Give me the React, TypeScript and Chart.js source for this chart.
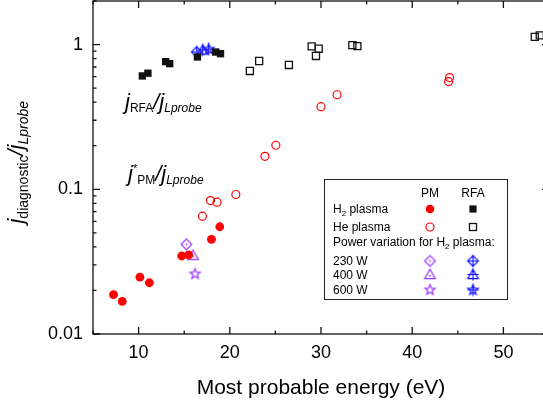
import React, { useEffect, useRef } from 'react';
import { Chart, registerables } from 'chart.js';

Chart.register(...registerables);

const FONT = "'Liberation Sans', Arial, Helvetica, sans-serif";

// ---- data (x: most probable energy in eV, y: j_diagnostic / j_Lprobe) ----
const h2PmX = [7.25, 8.21, 10.14, 11.18, 14.73, 15.49, 17.99, 18.9];
const h2PmY = [0.0187, 0.0168, 0.0247, 0.0226, 0.0346, 0.0352, 0.0451, 0.0551];

const hePmX = [17.0, 17.88, 18.6, 20.66, 23.85, 25.05, 30.0, 31.76, 43.99, 44.1];
const hePmY = [0.0652, 0.0836, 0.0814, 0.092, 0.169, 0.2015, 0.372, 0.45, 0.555, 0.591];

const h2RfaX = [10.41, 11.02, 12.97, 13.41, 16.45, 18.46, 18.98];
const h2RfaY = [0.607, 0.634, 0.762, 0.738, 0.821, 0.888, 0.865];

const heRfaX = [22.2, 23.22, 26.48, 28.98, 29.75, 29.45, 33.44, 33.99, 53.44, 53.99];
const heRfaY = [0.657, 0.77, 0.723, 0.972, 0.936, 0.834, 0.992, 0.976, 1.131, 1.157];

const powerLabels = ['230 W', '400 W', '600 W'];
const powerPmX = [15.24, 15.97, 16.19];
const powerPmY = [0.0417, 0.035, 0.026];
const powerRfaX = [16.37, 17.03, 17.69];
const powerRfaY = [0.888, 0.917, 0.931];

const xTicks = [10, 20, 30, 40, 50];
const yTicks = [0.01, 0.1, 1];
const xMin = 5;
const xMax = 55;
const yMin = 0.01;
const yMax = 2;

const RED = '#ff0000';
const PURPLE = '#9933ff';
const BLUE = '#1010ff';
const BLACK = '#111111';

type Kind = 'diamondDot' | 'triDot' | 'star' | 'diamondPlus' | 'triPlus' | 'starPlus';
const pmKinds: Kind[] = ['diamondDot', 'triDot', 'star'];
const rfaKinds: Kind[] = ['diamondPlus', 'triPlus', 'starPlus'];

function makeMarker(kind: Kind, color: string): HTMLCanvasElement {
  const c = document.createElement('canvas');
  c.width = 15;
  c.height = 15;
  const g = c.getContext('2d')!;
  g.translate(7.5, 7.5);
  g.strokeStyle = color;
  g.fillStyle = color;
  g.lineWidth = 1.2;
  g.beginPath();
  if (kind.startsWith('diamond')) {
    g.moveTo(0, -5.3);
    g.lineTo(5.3, 0);
    g.lineTo(0, 5.3);
    g.lineTo(-5.3, 0);
    g.closePath();
  } else if (kind.startsWith('tri')) {
    g.moveTo(0, -5.3);
    g.lineTo(5.3, 4.2);
    g.lineTo(-5.3, 4.2);
    g.closePath();
  } else {
    for (let i = 0; i < 10; i++) {
      const r = i % 2 === 0 ? 5.4 : 2.3;
      const a = -Math.PI / 2 + (i * Math.PI) / 5;
      const px = r * Math.cos(a);
      const py = r * Math.sin(a);
      if (i === 0) g.moveTo(px, py);
      else g.lineTo(px, py);
    }
    g.closePath();
  }
  g.stroke();
  if (kind.endsWith('Dot')) {
    g.beginPath();
    g.arc(0, kind.startsWith('tri') ? 1.2 : 0, 0.9, 0, Math.PI * 2);
    g.fill();
  }
  if (kind.endsWith('Plus')) {
    g.beginPath();
    g.moveTo(-5.6, 0);
    g.lineTo(5.6, 0);
    g.moveTo(0, -6.3);
    g.lineTo(0, 6);
    g.stroke();
  }
  return c;
}

type Part = { t: string; size: number; italic?: boolean; dy?: number };

function drawRich(ctx: CanvasRenderingContext2D, x: number, y: number, parts: Part[]) {
  let cx = x;
  for (const p of parts) {
    ctx.font = `${p.italic ? 'italic ' : ''}${p.size}px ${FONT}`;
    ctx.fillText(p.t, cx, y + (p.dy || 0));
    cx += ctx.measureText(p.t).width;
  }
}

function toPts(xs: number[], ys: number[]) {
  return xs.map((x, i) => ({ x, y: ys[i] }));
}

export default function App() {
  const ref = useRef<HTMLCanvasElement | null>(null);

  useEffect(() => {
    if (!ref.current) return;
    const pmMarkers = pmKinds.map((k) => makeMarker(k, PURPLE));
    const rfaMarkers = rfaKinds.map((k) => makeMarker(k, BLUE));

    const decor = {
      id: 'decor',
      afterDatasetsDraw(chart: any) {
        const ctx: CanvasRenderingContext2D = chart.ctx;
        const xs = chart.scales.x;
        const ys = chart.scales.y;
        const { left, right, top, bottom } = chart.chartArea;
        ctx.save();
        ctx.strokeStyle = BLACK;
        ctx.lineWidth = 1.3;
        ctx.strokeRect(left, top, right - left, bottom - top);
        ctx.beginPath();
        for (let v = xMin; v <= xMax; v += 5) {
          const px = xs.getPixelForValue(v);
          const len = v % 10 === 0 ? 7 : 3.5;
          ctx.moveTo(px, bottom);
          ctx.lineTo(px, bottom - len);
          ctx.moveTo(px, top);
          ctx.lineTo(px, top + len);
        }
        for (const d of [0.01, 0.1, 1]) {
          for (let m = 1; m <= 9; m++) {
            const v = m * d;
            if (v > yMax + 1e-9) break;
            const py = ys.getPixelForValue(v);
            const len = m === 1 ? 7 : 3.5;
            ctx.moveTo(left, py);
            ctx.lineTo(left + len, py);
            ctx.moveTo(right, py);
            ctx.lineTo(right - len, py);
          }
        }
        ctx.stroke();

        // in-plot annotations
        ctx.fillStyle = '#000';
        ctx.textAlign = 'left';
        ctx.textBaseline = 'alphabetic';
        drawRich(ctx, xs.getPixelForValue(8.51), ys.getPixelForValue(0.359), [
          { t: 'j', size: 22, italic: true },
          { t: 'RFA', size: 12, dy: 3 },
          { t: '/', size: 22, italic: true },
          { t: 'j', size: 22, italic: true },
          { t: 'Lprobe', size: 12, italic: true, dy: 3 },
        ]);
        drawRich(ctx, xs.getPixelForValue(8.84), ys.getPixelForValue(0.114), [
          { t: 'j', size: 22, italic: true },
          { t: '*', size: 11, dy: -9 },
          { t: 'PM', size: 12, dy: 3 },
          { t: '/', size: 22, italic: true },
          { t: 'j', size: 22, italic: true },
          { t: 'Lprobe', size: 12, italic: true, dy: 3 },
        ]);

        // y axis title (rotated)
        ctx.save();
        ctx.translate(left - 70, ys.getPixelForValue(0.058));
        ctx.rotate(-Math.PI / 2);
        drawRich(ctx, 0, 0, [
          { t: 'j', size: 22, italic: true },
          { t: 'diagnostic', size: 14, dy: 5 },
          { t: '/', size: 22, italic: true },
          { t: 'j', size: 22, italic: true },
          { t: 'Lprobe', size: 14, italic: true, dy: 5 },
        ]);
        ctx.restore();

        // legend box
        const bx = left + 231;
        const by = top + 178;
        const bw = 183;
        const bh = 120;
        ctx.fillStyle = '#fff';
        ctx.fillRect(bx, by, bw, bh);
        ctx.strokeStyle = '#222';
        ctx.lineWidth = 1;
        ctx.strokeRect(bx + 0.5, by + 0.5, bw, bh);
        ctx.fillStyle = '#000';
        const pmX = bx + 106;
        const rfaX = bx + 149;
        const tx = bx + 9;
        ctx.font = `12px ${FONT}`;
        ctx.textAlign = 'center';
        ctx.fillText('PM', pmX, by + 18);
        ctx.fillText('RFA', rfaX, by + 18);
        ctx.textAlign = 'left';
        const rowH2 = by + 30;
        const rowHe = by + 48;
        drawRich(ctx, tx, rowH2 + 4, [
          { t: 'H', size: 12 },
          { t: '2', size: 8, dy: 3 },
          { t: ' plasma', size: 12 },
        ]);
        drawRich(ctx, tx, rowHe + 4, [{ t: 'He plasma', size: 12 }]);
        drawRich(ctx, tx, by + 67, [
          { t: 'Power variation for H', size: 12 },
          { t: '2', size: 8, dy: 3 },
          { t: ' plasma:', size: 12 },
        ]);
        // H2 symbols
        ctx.fillStyle = RED;
        ctx.beginPath();
        ctx.arc(pmX, rowH2, 4.3, 0, Math.PI * 2);
        ctx.fill();
        ctx.fillStyle = BLACK;
        ctx.fillRect(rfaX - 3.6, rowH2 - 3.6, 7.2, 7.2);
        // He symbols
        ctx.strokeStyle = RED;
        ctx.lineWidth = 1.2;
        ctx.beginPath();
        ctx.arc(pmX, rowHe, 4, 0, Math.PI * 2);
        ctx.stroke();
        ctx.strokeStyle = BLACK;
        ctx.lineWidth = 1.3;
        ctx.strokeRect(rfaX - 3.5, rowHe - 3.5, 7, 7);
        // power rows
        const rows = [by + 82, by + 95.5, by + 111];
        ctx.fillStyle = '#000';
        rows.forEach((ry, i) => {
          drawRich(ctx, tx, ry + 4, [{ t: powerLabels[i], size: 12 }]);
          ctx.drawImage(pmMarkers[i], pmX - 7.5, ry - 7.5);
          ctx.drawImage(rfaMarkers[i], rfaX - 7.5, ry - 7.5);
        });
        ctx.restore();
      },
    };

    const chart = new Chart(ref.current, {
      type: 'scatter',
      data: {
        datasets: [
          {
            label: 'He plasma RFA',
            data: toPts(heRfaX, heRfaY),
            pointStyle: 'rect',
            pointRadius: 5,
            backgroundColor: 'rgba(0,0,0,0)',
            borderColor: BLACK,
            borderWidth: 1.3,
          },
          {
            label: 'H2 plasma RFA',
            data: toPts(h2RfaX, h2RfaY),
            pointStyle: 'rect',
            pointRadius: 5.2,
            backgroundColor: BLACK,
            borderColor: BLACK,
            borderWidth: 0,
          },
          {
            label: 'He plasma PM',
            data: toPts(hePmX, hePmY),
            pointStyle: 'circle',
            pointRadius: 4,
            backgroundColor: 'rgba(0,0,0,0)',
            borderColor: RED,
            borderWidth: 1.2,
          },
          {
            label: 'H2 plasma PM',
            data: toPts(h2PmX, h2PmY),
            pointStyle: 'circle',
            pointRadius: 4.4,
            backgroundColor: RED,
            borderColor: RED,
            borderWidth: 0,
          },
          {
            label: 'Power variation PM',
            data: toPts(powerPmX, powerPmY),
            pointStyle: pmMarkers as any,
            pointRadius: 6,
          },
          {
            label: 'Power variation RFA',
            data: toPts(powerRfaX, powerRfaY),
            pointStyle: rfaMarkers as any,
            pointRadius: 6,
          },
        ],
      },
      options: {
        animation: false,
        responsive: false,
        maintainAspectRatio: false,
        layout: { autoPadding: false, padding: { top: 1, right: 3, left: 0, bottom: 0 } },
        plugins: { legend: { display: false }, tooltip: { enabled: false } },
        scales: {
          x: {
            type: 'linear',
            min: xMin,
            max: xMax,
            position: 'bottom',
            grid: { display: false, drawTicks: false, tickLength: 0 },
            border: { display: false },
            afterBuildTicks: (s: any) => {
              s.ticks = xTicks.map((v) => ({ value: v }));
            },
            afterFit: (s: any) => {
              s.height = 71;
              s.paddingLeft = 0;
              s.paddingRight = 0;
            },
            ticks: {
              font: { family: FONT, size: 18 },
              color: '#000',
              padding: 8,
              maxRotation: 0,
              autoSkip: false,
            },
            title: {
              display: true,
              text: 'Most probable energy (eV)',
              color: '#000',
              font: { family: FONT, size: 21 },
              padding: { top: 0, bottom: 4 },
            },
          },
          y: {
            type: 'logarithmic',
            min: yMin,
            max: yMax,
            position: 'left',
            grid: { display: false, drawTicks: false, tickLength: 0 },
            border: { display: false },
            afterBuildTicks: (s: any) => {
              s.ticks = yTicks.map((v) => ({ value: v }));
            },
            afterFit: (s: any) => {
              s.width = 93;
              s.paddingTop = 0;
              s.paddingBottom = 0;
            },
            ticks: {
              font: { family: FONT, size: 18 },
              color: '#000',
              padding: 10,
              autoSkip: false,
              callback: (v: any) => String(Number(v)),
            },
          },
        },
      },
      plugins: [decor],
    });
    return () => chart.destroy();
  }, []);

  return (
    <div
      style={{
        position: 'absolute',
        left: 0,
        top: 0,
        width: 543,
        height: 405,
        overflow: 'hidden',
        background: '#fff',
      }}
    >
      <canvas ref={ref} width={552} height={405} style={{ display: 'block' }} />
    </div>
  );
}
